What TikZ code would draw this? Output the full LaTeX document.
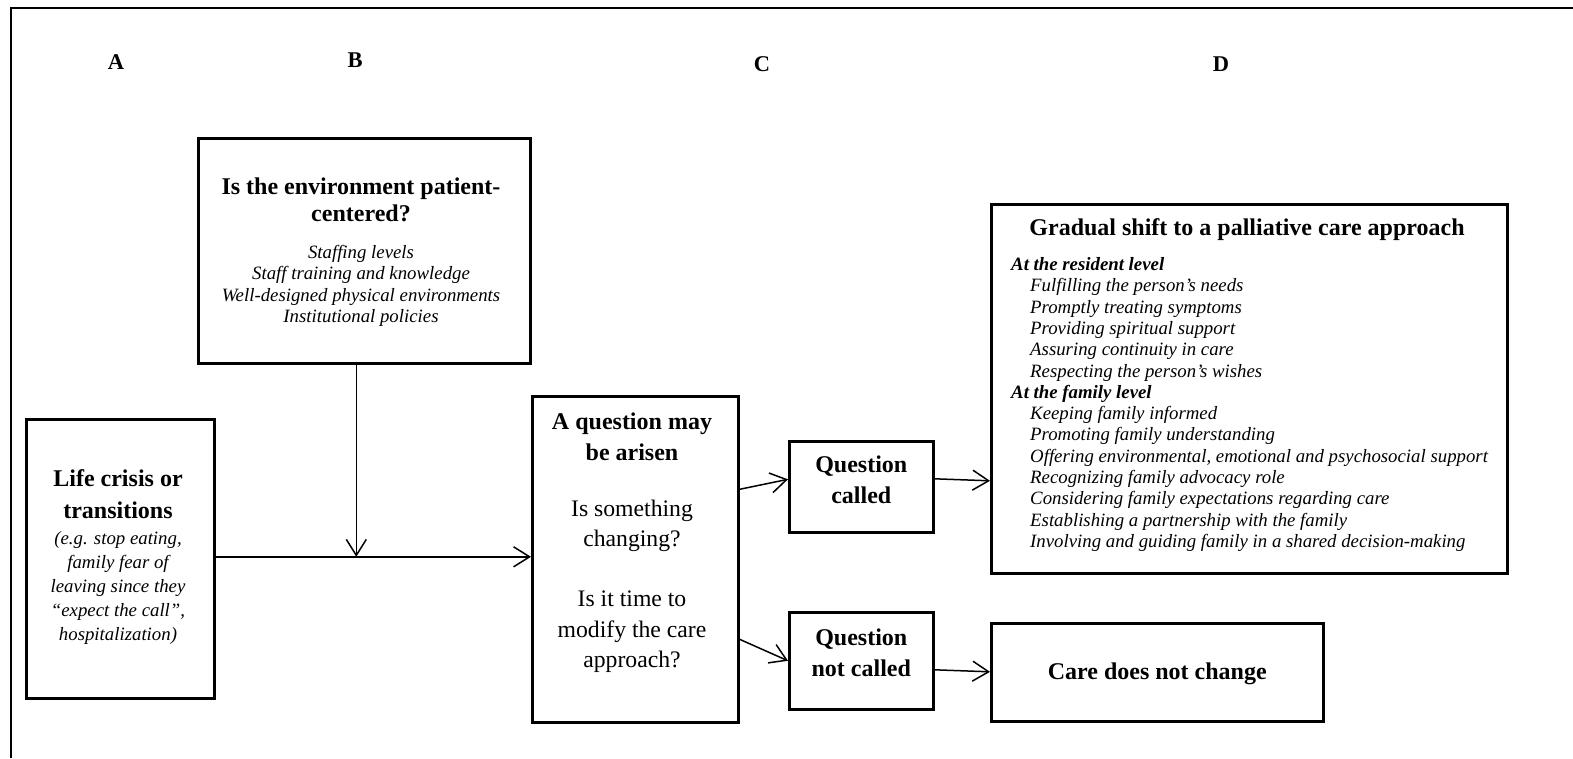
\documentclass[tikz,border=0pt]{standalone}
\usepackage{fontspec}
\setmainfont{Liberation Serif}
\usetikzlibrary{arrows.meta}
\begin{document}
\begin{tikzpicture}[x=1pt,y=-1pt,
  box/.style={draw, line width=2.6pt, inner sep=0, anchor=north west},
  conn/.style={line width=1.5pt, -{Straight Barb[length=16pt,width=20pt,line width=1.5pt]}},
  lbl/.style={font=\fontsize{22.5}{26}\selectfont\bfseries, inner sep=0},
  head/.style={font=\fontsize{24}{#1}\selectfont\bfseries, align=center, inner sep=0},
  head/.default=27,
  body/.style={font=\fontsize{23.7}{#1}\selectfont, align=center, inner sep=0},
  ital/.style={font=\fontsize{18.8}{#1}\selectfont\itshape, align=center, inner sep=0},
  ital/.default=21.3]
\useasboundingbox (0,0) rectangle (1573,758);
\draw[line width=1.8pt] (11,758) -- (11,8) -- (1573,8);

% column labels
\node[lbl] (la) at (116,62) {A};
\node[lbl] (lb) at (355,60) {B};
\node[lbl] (lc) at (762,64) {C};
\node[lbl] (ld) at (1221,64) {D};

% boxes
\node[box, minimum width=332pt, minimum height=225pt] (bbox) at (197,137) {};
\node[box, minimum width=188pt, minimum height=279pt] (abox) at (25,418) {};
\node[box, minimum width=206pt, minimum height=326pt] (cbox) at (531,395) {};
\node[box, minimum width=144pt, minimum height=91pt] (qc) at (788,440) {};
\node[box, minimum width=144pt, minimum height=97pt] (qn) at (788,611) {};
\node[box, minimum width=516pt, minimum height=369pt] (dbox) at (990,203) {};
\node[box, minimum width=332pt, minimum height=98pt] (care) at (990,622) {};

% B text
\node[head] (bhead) at (361,200) {Is the environment patient-\\centered?};
\node[ital] (bitems) at (361,286) {Staffing levels\\Staff training and knowledge\\Well-designed physical environments\\Institutional policies};

% A text
\node[head=32] (ahead) at (118,494) {Life crisis or\\transitions};
\node[ital=24] (aitems) at (118,588) {(e.g. stop eating,\\family fear of\\leaving since they\\``expect the call'',\\hospitalization)};

% C text
\node[head=31] (chead) at (632,437) {A question may\\be arisen};
\node[body=30] (cq1) at (632,526) {Is something\\changing?};
\node[body=30.5] (cq2) at (632,632) {Is it time to\\modify the care\\approach?};

% question boxes
\node[head=31] (qct) at ([yshift=7pt]qc.center) {Question\\called};
\node[head=31] (qnt) at ([yshift=8.5pt]qn.center) {Question\\not called};

% care
\node[head] (caret) at ([yshift=-1.5pt]care.center) {Care does not change};

% D text
\node[head] (dhead) at (1247,230) {Gradual shift to a palliative care approach};
\node[ital, align=left, anchor=west] (dlist) at (1011,404.5) {%
\textbf{At the resident level}\\
\hspace*{19pt}Fulfilling the person’s needs\\
\hspace*{19pt}Promptly treating symptoms\\
\hspace*{19pt}Providing spiritual support\\
\hspace*{19pt}Assuring continuity in care\\
\hspace*{19pt}Respecting the person’s wishes\\
\textbf{At the family level}\\
\hspace*{19pt}Keeping family informed\\
\hspace*{19pt}Promoting family understanding\\
\hspace*{19pt}Offering environmental, emotional and psychosocial support\\
\hspace*{19pt}Recognizing family advocacy role\\
\hspace*{19pt}Considering family expectations regarding care\\
\hspace*{19pt}Establishing a partnership with the family\\
\hspace*{19pt}Involving and guiding family in a shared decision-making};

% connectors
\coordinate (astart) at ([yshift=2pt]abox.east);
\coordinate (bstart) at ([xshift=-8pt]bbox.south);
\coordinate (ajoin) at (bstart |- astart);
\draw[conn] (astart) -- (astart -| cbox.west);
\draw[conn] (bstart) -- (ajoin);
\draw[conn] ([yshift=70pt]cbox.east) -- ([yshift=7.5pt]qc.west);
\draw[conn] ([yshift=-80pt]cbox.east) -- (qn.west);
\coordinate (qcstart) at ([yshift=8pt]qc.east);
\coordinate (qnstart) at ([yshift=-9pt]qn.east);
\draw[conn] (qcstart) -- ([yshift=-2pt]qcstart -| dbox.west);
\draw[conn] (qnstart) -- ([yshift=-2pt]qnstart -| care.west);
\end{tikzpicture}
\end{document}
